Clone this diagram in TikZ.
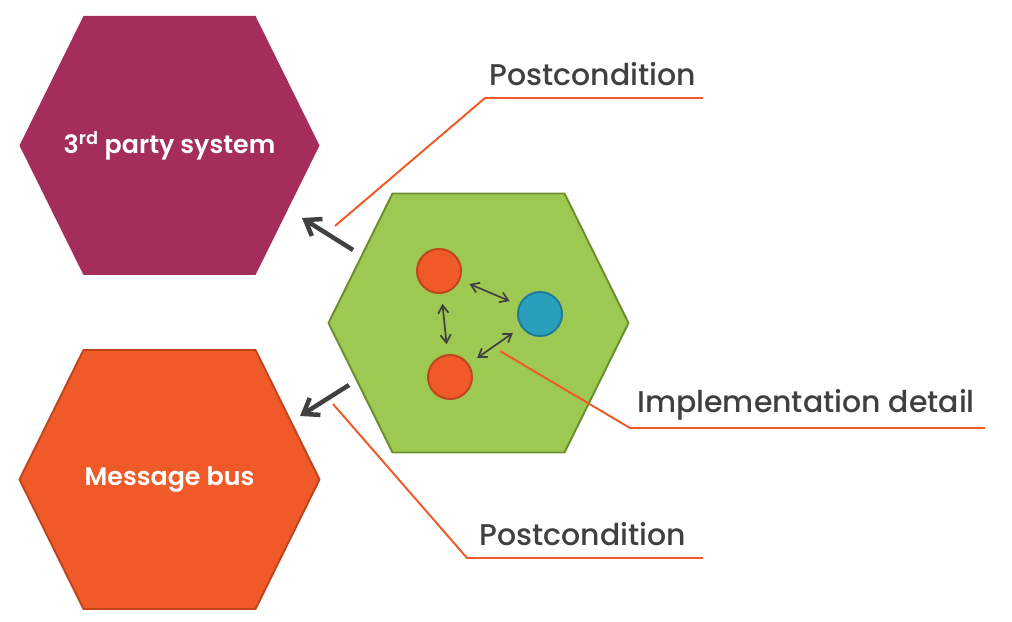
\documentclass[tikz,border=0pt]{standalone}
\usepackage{fontspec}
\setmainfont{Poppins}
\newfontfamily\medfont{Poppins Medium}
\newfontfamily\semifont{Poppins SemiBold}
\usetikzlibrary{arrows.meta}
\definecolor{sysred}{HTML}{A52D5C}
\definecolor{busorange}{HTML}{F05A28}
\definecolor{busedge}{HTML}{C0441C}
\definecolor{coregreen}{HTML}{9DC852}
\definecolor{coreedge}{HTML}{6B8E2F}
\definecolor{partblue}{HTML}{2A9FBC}
\definecolor{partedge}{HTML}{1F7A95}
\definecolor{textgray}{HTML}{404040}
% hexagon round the current point
\newcommand{\hexagon}{+(-150,0) -- +(-86,-129.5) -- +(86,-129.5) -- +(150,0)
  -- +(86,129.5) -- +(-86,129.5) -- cycle}
\begin{document}
\begin{tikzpicture}[x=0.025cm,y=-0.025cm,
  hexa/.style={line width=1.4pt,line join=round},
  hexname/.style={text=white,font=\semifont\fontsize{18}{22}\selectfont},
  ball/.style={circle,minimum size=1.1cm,inner sep=0pt,line width=1.4pt},
  callout/.style={text=textgray,font=\medfont\fontsize{21.3}{25}\selectfont},
  lead/.style={draw=busorange,line width=1.4pt},
  link/.style={{Straight Barb[length=2mm,width=2.6mm]}-{Straight Barb[length=2mm,width=2.6mm]},
    textgray,line width=1.2pt,shorten <=0.25cm,shorten >=0.25cm},
  push/.style={-{Straight Barb[length=3.5mm,width=5mm]},textgray,line width=3.2pt}]
\useasboundingbox (0,0) rectangle (1012,622);
% Draw the hexagons
\coordinate (sys-c) at (169.5,145.5);
\coordinate (bus-c) at (169.5,479.5);
\coordinate (core-c) at (478.5,323);
\fill[hexa,sysred] (sys-c) \hexagon;
\draw[hexa,fill=busorange,draw=busedge] (bus-c) \hexagon;
\draw[hexa,fill=coregreen,draw=coreedge] (core-c) \hexagon;
\node[hexname] (sys) at (sys-c) {3\textsuperscript{rd} party system};
\node[hexname] (bus) at (bus-c) {Message bus};
% Parts inside the core
\node[ball,fill=busorange,draw=busedge] (partA) at (439,271) {};
\node[ball,fill=partblue,draw=partedge] (partB) at (540,314) {};
\node[ball,fill=busorange,draw=busedge] (partC) at (450,377) {};
\draw[link] (partA) -- (partB);
\draw[link] (partA) -- (partC);
\draw[link] (partC) -- (partB);
% Outgoing arrows
\coordinate (out-up) at (353,250);
\coordinate (in-sys) at (302,218);
\coordinate (out-down) at (349,385);
\coordinate (in-bus) at (300,416);
\draw[push] (out-up) -- (in-sys);
\draw[push] (out-down) -- (in-bus);
% Callouts
\node[callout] (post-up) at (593,74) {Postcondition};
\coordinate (post-up-a) at (335,226);
\coordinate (post-up-b) at (485,98);
\coordinate (post-up-c) at (703,98);
\draw[lead] (post-up-a) -- (post-up-b) -- (post-up-c);
\node[callout] (impl) at (806,405) {Implementation detail};
\coordinate (impl-a) at (500,351);
\coordinate (impl-b) at (630,428);
\coordinate (impl-c) at (985,428);
\draw[lead] (impl-a) -- (impl-b) -- (impl-c);
\node[callout] (post-down) at (583,534) {Postcondition};
\coordinate (post-down-a) at (333,404);
\coordinate (post-down-b) at (467,558);
\coordinate (post-down-c) at (703,558);
\draw[lead] (post-down-a) -- (post-down-b) -- (post-down-c);
\end{tikzpicture}
\end{document}
